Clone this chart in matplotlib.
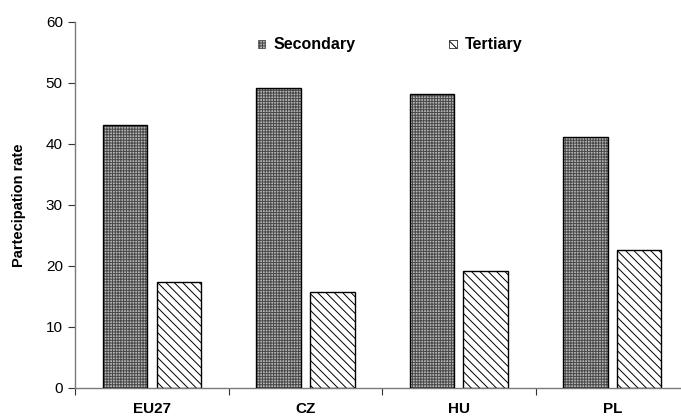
import matplotlib
matplotlib.use("Agg")
import matplotlib.pyplot as plt
from matplotlib.patches import Patch
import numpy as np

plt.rcParams['font.family'] = ['Liberation Sans', 'DejaVu Sans']
plt.rcParams['hatch.linewidth'] = 0.7

countries = ["EU27", "CZ", "HU", "PL"]
secondary = [43.1, 49.2, 48.2, 41.1]
tertiary = [17.3, 15.7, 19.2, 22.6]
y_ticks = [0, 10, 20, 30, 40, 50, 60]

fig = plt.figure(figsize=(6.81, 4.19), dpi=100)
ax = fig.add_axes([0.1106, 0.074, 0.9012, 0.8735])

x = np.arange(len(countries))
w = 0.29
off = 0.175

SEC_FACE = "#b4b4b4"
SEC_HATCH = "#484848"

# Secondary: fine grey checker texture, then black outline
ax.bar(x - off, secondary, w, color=SEC_FACE, edgecolor=SEC_HATCH,
       hatch="++++++", linewidth=0, zorder=2)
ax.bar(x - off, secondary, w, fill=False, edgecolor="black",
       linewidth=1.0, zorder=3)
# Tertiary: white with diagonal stripes
ax.bar(x + off, tertiary, w, color="white", edgecolor="black",
       hatch="\\\\\\\\", linewidth=1.0, zorder=2)

ax.set_xlim(-0.5, len(countries) - 0.5)
ax.set_ylim(0, 60)
ax.set_yticks(y_ticks)
ax.set_yticklabels([str(t) for t in y_ticks], fontsize=11)

ax.set_xticks(x)
ax.set_xticklabels(countries, fontsize=11, fontweight="bold")
ax.set_xticks(np.arange(len(countries) + 1) - 0.5, minor=True)
ax.tick_params(axis="x", which="major", length=0, pad=10)
ax.tick_params(axis="x", which="minor", length=5, width=0.8, color="#333333")
ax.tick_params(axis="y", length=5, width=0.8, color="#333333", pad=4)

for s in ("top", "right"):
    ax.spines[s].set_visible(False)
for s in ("left", "bottom"):
    ax.spines[s].set_color("#7a7a7a")
    ax.spines[s].set_linewidth(1.0)

ax.set_ylabel("Partecipation rate", fontsize=10.5, fontweight="bold", labelpad=14)

handles = [
    Patch(facecolor=SEC_FACE, edgecolor=SEC_HATCH, hatch="++++++", linewidth=0.5),
    Patch(facecolor="white", edgecolor="black", hatch="\\\\\\\\", linewidth=0.5),
]
leg = ax.legend(handles, ["Secondary", "Tertiary"], ncol=2, frameon=False,
                loc="center left", bbox_to_anchor=(258 / 681, 1 - 45 / 419),
                bbox_transform=fig.transFigure,
                prop={"size": 11.5, "weight": "bold"},
                handlelength=0.45, handleheight=0.45, handletextpad=0.5,
                columnspacing=5.9, borderaxespad=0, borderpad=0)

fig.savefig("out.png", dpi=100)
